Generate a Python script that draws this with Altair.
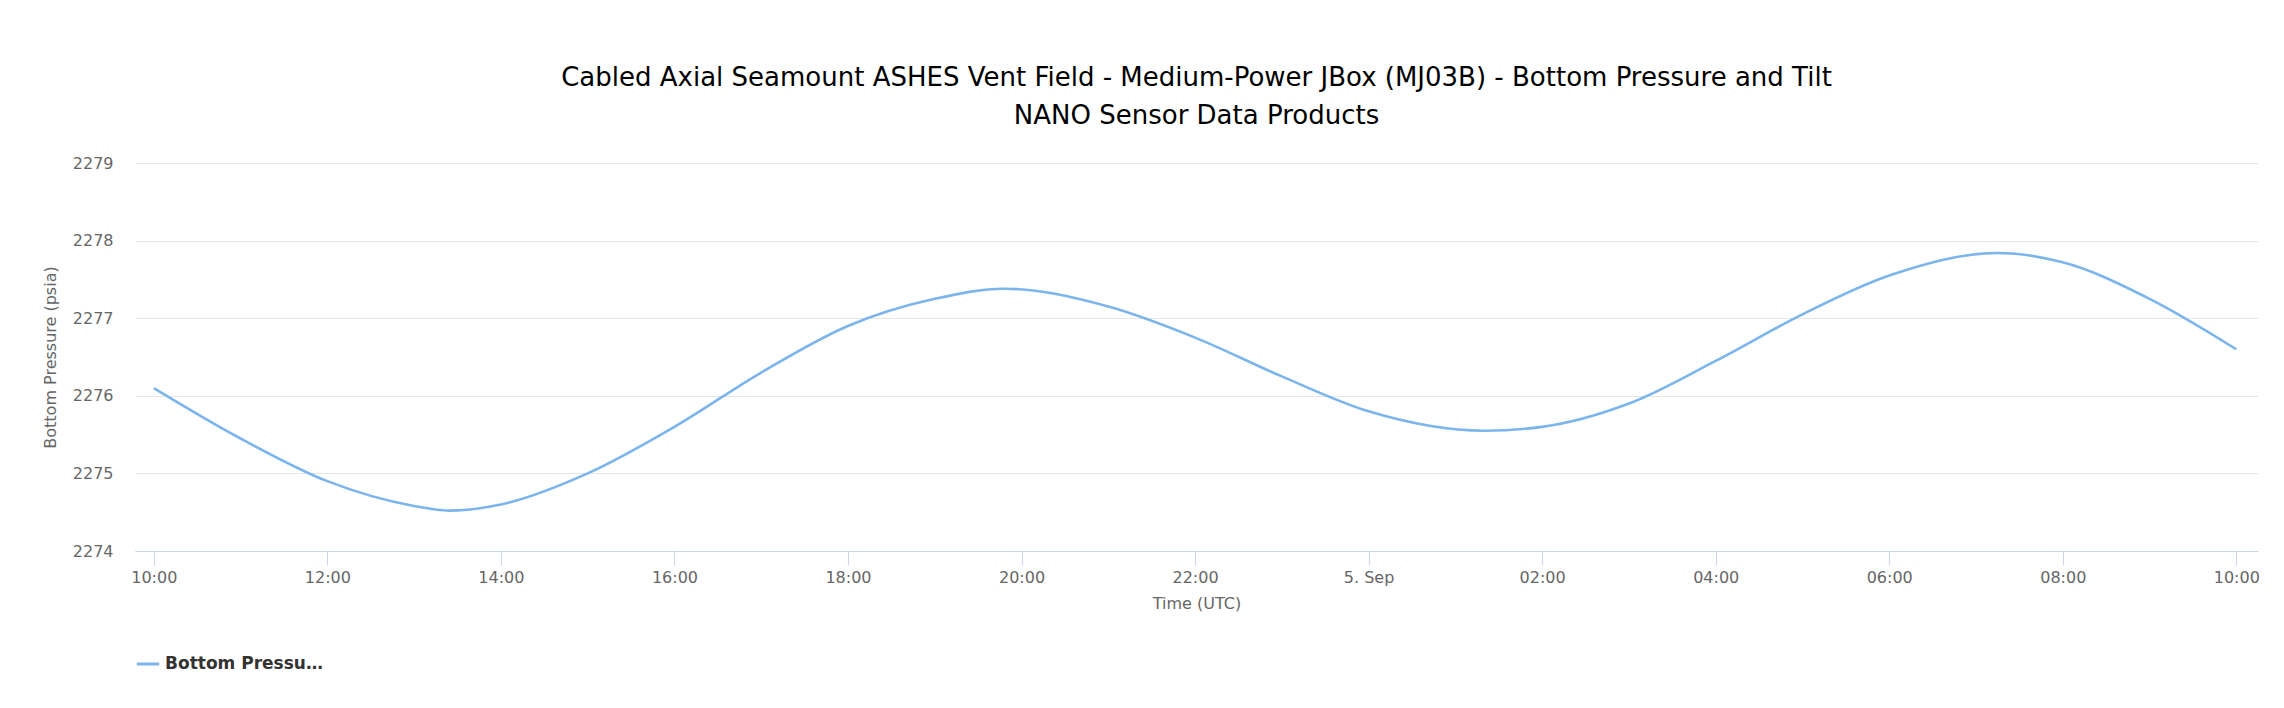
import altair as alt
import pandas as pd

times = ["2016-09-04T10:00", "2016-09-04T11:00", "2016-09-04T12:00", "2016-09-04T13:00",
         "2016-09-04T13:24", "2016-09-04T14:00", "2016-09-04T15:00", "2016-09-04T16:00",
         "2016-09-04T17:00", "2016-09-04T18:00", "2016-09-04T19:00", "2016-09-04T19:48",
         "2016-09-04T21:00", "2016-09-04T22:00", "2016-09-04T23:00", "2016-09-05T00:00",
         "2016-09-05T01:20", "2016-09-05T02:00", "2016-09-05T03:00", "2016-09-05T04:00",
         "2016-09-05T05:00", "2016-09-05T06:00", "2016-09-05T07:15", "2016-09-05T08:00",
         "2016-09-05T09:00", "2016-09-05T10:00"]
pressure = [2276.1, 2275.45, 2274.9, 2274.58, 2274.52, 2274.6, 2275.0, 2275.6,
            2276.3, 2276.9, 2277.25, 2277.38, 2277.15, 2276.75, 2276.25, 2275.8,
            2275.55, 2275.6, 2275.9, 2276.45, 2277.05, 2277.55, 2277.84, 2277.72,
            2277.25, 2276.6]
tick_hours = [(4, 10), (4, 12), (4, 14), (4, 16), (4, 18), (4, 20), (4, 22),
              (5, 0), (5, 2), (5, 4), (5, 6), (5, 8), (5, 10)]

df = pd.DataFrame({"time": times, "pressure": pressure, "series": "Bottom Pressure (psia)"})

font = "DejaVu Sans"
x_domain = [alt.DateTime(year=2016, month=9, date=4, hours=9, minutes=47),
            alt.DateTime(year=2016, month=9, date=5, hours=10, minutes=15)]
x_ticks = [alt.DateTime(year=2016, month=9, date=d, hours=h) for d, h in tick_hours]

chart = alt.Chart(df).mark_line(strokeWidth=2.6, interpolate="monotone").encode(
    x=alt.X("time:T", title="Time (UTC)",
            scale=alt.Scale(domain=x_domain),
            axis=alt.Axis(values=x_ticks,
                          labelExpr="hours(datum.value) == 0 ? timeFormat(datum.value, '%-d. %b') : timeFormat(datum.value, '%H:%M')",
                          grid=False, domainColor="#ccd6eb", tickColor="#ccd6eb",
                          tickSize=14, labelPadding=4, titlePadding=10)),
    y=alt.Y("pressure:Q", title="Bottom Pressure (psia)",
            scale=alt.Scale(domain=[2274, 2279], nice=False, zero=False),
            axis=alt.Axis(values=[2274, 2275, 2276, 2277, 2278, 2279], format="d",
                          domain=False, ticks=False, gridColor="#e6e6e6", labelPadding=22,
                          titlePadding=14)),
    color=alt.Color("series:N", scale=alt.Scale(range=["#7cb5ec"]),
                    legend=alt.Legend(title=None, orient="bottom", symbolType="stroke",
                                      symbolStrokeWidth=3, symbolSize=500,
                                      labelFont=font, labelFontSize=17, labelFontWeight="bold",
                                      labelColor="#333", offset=40)),
).properties(
    width=2123, height=388,
    autosize=alt.AutoSizeParams(type="none"),
    padding={"left": 127, "top": 155, "right": 18, "bottom": 150},
    title=alt.TitleParams(
        "Cabled Axial Seamount ASHES Vent Field - Medium-Power JBox (MJ03B) - Bottom Pressure and Tilt",
        subtitle="NANO Sensor Data Products", font=font, fontSize=26, fontWeight="normal",
        subtitleFont=font, subtitleFontSize=26, subtitleColor="#000", color="#000",
        anchor="middle", offset=26, subtitlePadding=12),
).configure_axis(
    labelFont=font, titleFont=font, labelFontSize=16, titleFontSize=16,
    labelColor="#666", titleColor="#666", titleFontWeight="normal"
).configure_view(stroke=None)

chart.save("out.html", embed_options={"renderer": "svg", "actions": False})
